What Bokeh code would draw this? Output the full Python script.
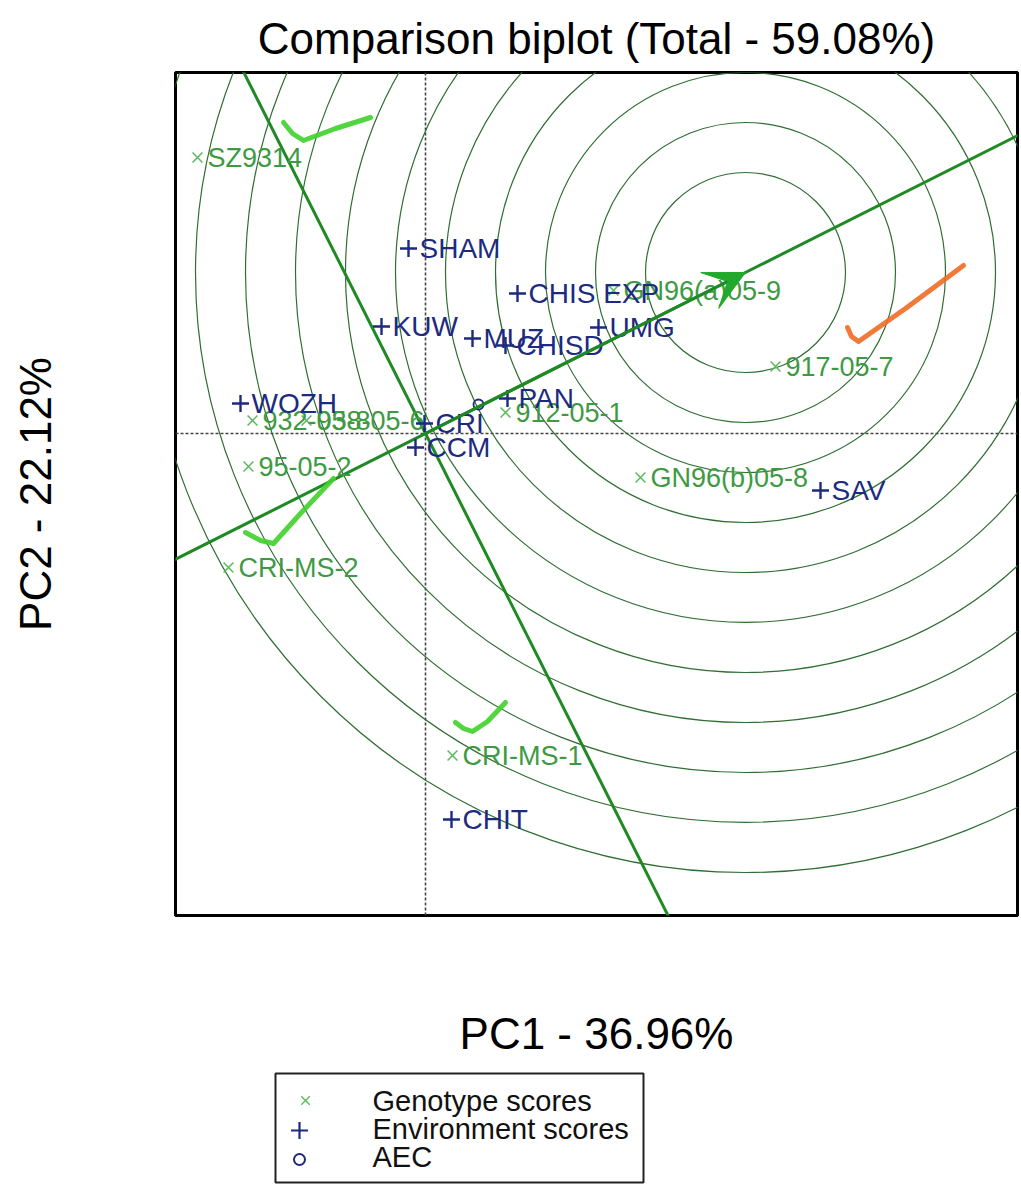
import numpy as np
from bokeh.plotting import figure
from bokeh.layouts import column
from bokeh.models import (Range1d, Span, Arrow, VeeHead, FixedTicker,
                          ColumnDataSource)
from bokeh.core.properties import value
from bokeh.embed import file_html
from bokeh.resources import INLINE

# ---- biplot scores -------------------------------------------------------
genotypes = ["SZ9314", "GN96(a)05-9", "917-05-7", "912-05-1", "932-05-8",
             "938-05-6", "95-05-2", "GN96(b)05-8", "CRI-MS-2", "CRI-MS-1"]
gen_pc1 = [-2.28, 1.88, 3.50, 0.80, -1.73, -1.19, -1.77, 2.15, -1.97, 0.27]
gen_pc2 = [2.76, 1.43, 0.67, 0.21, 0.13, 0.13, -0.33, -0.44, -1.34, -3.22]

environments = ["SHAM", "CHIS EXP", "KUW", "MUZ", "CHISD", "UMG", "WOZH",
                "PAN", "CRI", "CCM", "SAV", "CHIT"]
env_pc1 = [-0.17, 0.92, -0.44, 0.47, 0.80, 1.73, -1.85, 0.82, -0.01, -0.10, 3.95, 0.26]
env_pc2 = [1.85, 1.40, 1.07, 0.95, 0.88, 1.06, 0.30, 0.35, 0.10, -0.14, -0.57, -3.86]

# average environment coordinate and the ideal genotype
aec_point = [0.53, 0.29]
ideal_point = [3.20, 1.61]
ring_radii = [1.0, 1.5, 2.0, 2.5, 3.0, 3.5, 4.0, 4.5, 5.0, 5.5, 6.0]

# hand-drawn tick marks beside the selected genotypes
tick_marks = [
    ([-1.42, -1.33, -1.22, -0.90, -0.55], [3.11, 3.00, 2.93, 3.05, 3.16], "#3fd12a"),
    ([-1.80, -1.65, -1.52, -1.25, -0.92], [-0.99, -1.07, -1.10, -0.80, -0.45], "#3fd12a"),
    ([0.30, 0.38, 0.47, 0.62, 0.80], [-2.89, -2.95, -2.98, -2.88, -2.69], "#3fd12a"),
    ([4.22, 4.26, 4.33, 4.80, 5.38], [1.06, 0.97, 0.92, 1.25, 1.68], "#ef6a25"),
]

key_labels = ["Genotype scores", "Environment scores", "AEC"]

GEN_GREEN = "#3e9a42"
GEN_MARK = "#5cb85c"
ENV_BLUE = "#1c2a80"
LINE_GREEN = "#1f8a24"
RING_GREEN = "#2f6e32"
FONT = "Liberation Sans"

p = figure(width=1021, height=1062,
           x_range=Range1d(-2.50, 5.92), y_range=Range1d(-4.82, 3.61),
           output_backend="svg", toolbar_location=None,
           min_border_left=175, min_border_right=4,
           min_border_top=72, min_border_bottom=147,
           title="Comparison biplot (Total - 59.08%)")

p.title.text_font = FONT
p.title.text_font_size = "44px"
p.title.text_font_style = "normal"
p.title.align = "center"
p.title.text_color = "black"
p.title.standoff = 20

p.grid.visible = False
p.outline_line_color = "black"
p.outline_line_width = 3
p.background_fill_color = "white"
p.border_fill_color = "white"

p.xaxis.axis_label = "PC1 - 36.96%"
p.yaxis.axis_label = "PC2 - 22.12%"
for ax, standoff in ((p.xaxis[0], 93), (p.yaxis[0], 116)):
    ax.ticker = FixedTicker(ticks=[])
    ax.axis_line_color = None
    ax.major_tick_line_color = None
    ax.minor_tick_line_color = None
    ax.major_tick_out = 0
    ax.major_label_standoff = 0
    ax.major_label_text_font_size = "0px"
    ax.axis_label_text_font = FONT
    ax.axis_label_text_font_size = "44px"
    ax.axis_label_text_font_style = "normal"
    ax.axis_label_text_color = "black"
    ax.axis_label_standoff = standoff

# concentric rings around the ideal genotype
p.circle(x=[ideal_point[0]] * len(ring_radii), y=[ideal_point[1]] * len(ring_radii),
         radius=ring_radii, fill_color=None, line_color=RING_GREEN, line_width=1.2)

# zero reference lines
for dim in ("width", "height"):
    p.add_layout(Span(location=0, dimension=dim, line_color="#444444",
                      line_width=1.6, line_dash="3 2", level="underlay"))

# AEC abscissa and its perpendicular through the origin
ideal = np.array(ideal_point)
u = ideal / np.linalg.norm(ideal)
far = 20.0
p.line([-far * u[0], far * u[0]], [-far * u[1], far * u[1]],
       line_color=LINE_GREEN, line_width=3)
p.line([far * u[1], -far * u[1]], [-far * u[0], far * u[0]],
       line_color=LINE_GREEN, line_width=3)

# genotype scores
gsrc = ColumnDataSource(dict(x=gen_pc1, y=gen_pc2, name=genotypes))
p.scatter("x", "y", source=gsrc, marker="x", size=14,
          line_color=GEN_MARK, line_width=1.5)
p.text("x", "y", text="name", source=gsrc, x_offset=10,
       text_align="left", text_baseline="middle",
       text_font=value(FONT), text_font_size="27px", text_color=GEN_GREEN)

# arrow from the origin to the ideal genotype
p.add_layout(Arrow(x_start=0, y_start=0, x_end=ideal_point[0], y_end=ideal_point[1],
                   line_color=LINE_GREEN, line_width=3,
                   end=VeeHead(size=40, fill_color="#22a82a", line_color="#22a82a")))

# environment scores
esrc = ColumnDataSource(dict(x=env_pc1, y=env_pc2, name=environments))
p.scatter("x", "y", source=esrc, marker="cross", size=17,
          line_color=ENV_BLUE, line_width=2.4)
p.text("x", "y", text="name", source=esrc, x_offset=11,
       text_align="left", text_baseline="middle",
       text_font=value(FONT), text_font_size="28px", text_color=ENV_BLUE)

# average environment coordinate marker
p.scatter([aec_point[0]], [aec_point[1]], marker="circle", size=10,
          fill_color=None, line_color=ENV_BLUE, line_width=1.8)

# selection ticks
for xs, ys, col in tick_marks:
    p.line(xs, ys, line_color=col, line_width=5, line_cap="round",
           line_join="round", line_alpha=0.9)

# ---- key underneath the biplot (pixel coordinates, y grows downward) ------
k = figure(width=1021, height=122,
           x_range=Range1d(175, 1017), y_range=Range1d(1184, 1062),
           output_backend="svg", toolbar_location=None,
           x_axis_type=None, y_axis_type=None,
           min_border_left=175, min_border_right=4,
           min_border_top=0, min_border_bottom=0)
k.grid.visible = False
k.outline_line_color = None
k.background_fill_color = "white"
k.border_fill_color = "white"

box_l, box_r, box_t, box_b = 275, 643, 1073, 1182
k.quad(left=[box_l], right=[box_r], top=[box_t], bottom=[box_b],
       fill_color="white", line_color="#222222", line_width=2)

row_y = [box_t + 27 + 28 * i for i in range(len(key_labels))]
k.scatter([305], [row_y[0]], marker="x", size=12, line_color=GEN_MARK, line_width=1.4)
k.scatter([299], [row_y[1] + 2], marker="cross", size=17, line_color=ENV_BLUE, line_width=2.2)
k.scatter([299], [row_y[2] + 3], marker="circle", size=11, fill_color=None,
          line_color=ENV_BLUE, line_width=2)
k.text([372] * len(key_labels), row_y, text=key_labels,
       text_align="left", text_baseline="middle",
       text_font=value(FONT), text_font_size="29px", text_color="#111111")

page = column(p, k, spacing=0)
open("out.html", "w").write(file_html(page, INLINE))
